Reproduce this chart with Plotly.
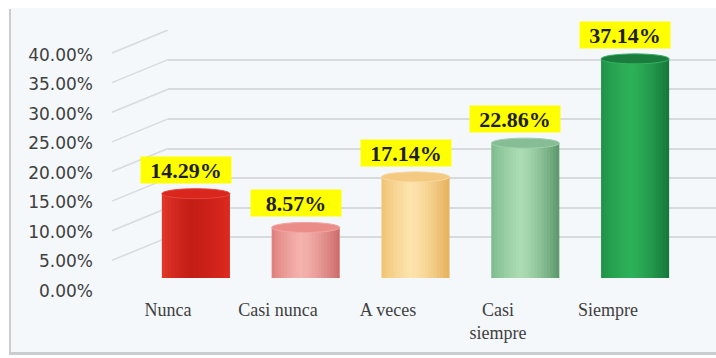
import plotly.graph_objects as go

# ---- data -------------------------------------------------------------
categories = ["Nunca", "Casi nunca", "A veces", "Casi siempre", "Siempre"]
percent = [14.29, 8.57, 17.14, 22.86, 37.14]
x_tick_labels = ["Nunca", "Casi nunca", "A veces", "Casi<br>siempre", "Siempre"]
y_ticks = [0, 5, 10, 15, 20, 25, 30, 35, 40]
y_tick_labels = [f"{v:.2f}%" for v in y_ticks]

# ---- styling ----------------------------------------------------------
W, H = 716, 358
shade_left = ["#e53a2c", "#dc7a78", "#efbf6e", "#78b888", "#1f9047"]
shade_mid = ["#c41d16", "#f5b3ae", "#fde3ad", "#acdcb4", "#2db158"]
shade_right = ["#dd2a20", "#cc6a68", "#e6b15a", "#5a976a", "#16773a"]
cap_fill = ["#d9271d", "#ea8c88", "#f4c982", "#86bd94", "#1a7d3d"]
cap_rim = ["#e8453a", "#f2a5a1", "#f8d9a0", "#9fcfab", "#36b062"]
grid_color = "#d7dbde"
BAR_W = 0.62
N_STRIPES = 22
HIGHLIGHT = 0.42


def px_x(p):
    return p / W


def px_y(p):
    return (H - p) / H


def hex_rgb(h):
    h = h.lstrip("#")
    return [int(h[i:i + 2], 16) for i in (0, 2, 4)]


def blend(a, b, t):
    ca, cb = hex_rgb(a), hex_rgb(b)
    c = [round(ca[i] + (cb[i] - ca[i]) * t) for i in range(3)]
    return "rgb({},{},{})".format(*c)


def stripe_color(i, u):
    if u < HIGHLIGHT:
        t = u / HIGHLIGHT
        return blend(shade_left[i], shade_mid[i], t ** 0.7)
    t = (u - HIGHLIGHT) / (1 - HIGHLIGHT)
    return blend(shade_mid[i], shade_right[i], t ** 1.4)


fig = go.Figure()

# empty traces register the back-wall and label subplots
fig.add_trace(go.Scatter(x=[], y=[], xaxis="x", yaxis="y", showlegend=False))

# cylinder bodies: vertical stripes with cylindrical shading
sw = BAR_W / N_STRIPES
for k in range(N_STRIPES):
    u = (k + 0.5) / N_STRIPES
    fig.add_trace(go.Bar(
        x=categories, y=percent,
        xaxis="x2", yaxis="y2",
        offset=-BAR_W / 2 + k * sw,
        width=sw * (1.4 if k < N_STRIPES - 1 else 1.0),
        marker=dict(color=[stripe_color(i, u) for i in range(len(categories))],
                    line=dict(width=0)),
        hoverinfo="skip", showlegend=False,
    ))

fig.add_trace(go.Scatter(x=[], y=[], xaxis="x3", yaxis="y3", showlegend=False))

shapes = []
# panel with soft shadow
shapes.append(dict(type="rect", xref="paper", yref="paper", layer="below",
                   x0=px_x(9), x1=px_x(722), y0=px_y(355), y1=px_y(9),
                   fillcolor="#c9cdd0", line=dict(width=0)))
shapes.append(dict(type="rect", xref="paper", yref="paper", layer="below",
                   x0=px_x(11), x1=px_x(722), y0=px_y(352), y1=px_y(8),
                   fillcolor="#f4f8fb", line=dict(width=0)))

# side-wall grid lines joining the front axis to the back wall
for v in y_ticks:
    shapes.append(dict(type="line", xref="paper", yref="y", layer="below",
                       ysizemode="pixel", yanchor=v, y0=-23, y1=0,
                       x0=px_x(112), x1=px_x(168),
                       line=dict(color=grid_color, width=1.6)))

# cylinder bases and tops
for i, v in enumerate(percent):
    shapes.append(dict(type="circle", xref="x2", yref="y2", layer="below",
                       ysizemode="pixel", yanchor=0, y0=-5, y1=5,
                       x0=i - BAR_W / 2, x1=i + BAR_W / 2,
                       fillcolor=stripe_color(i, 0.5), line=dict(width=0)))
    shapes.append(dict(type="circle", xref="x2", yref="y2", layer="above",
                       ysizemode="pixel", yanchor=v, y0=-5, y1=5,
                       x0=i - BAR_W / 2, x1=i + BAR_W / 2,
                       fillcolor=cap_fill[i], line=dict(width=1, color=cap_rim[i])))

annotations = []
for c, v in zip(categories, percent):
    annotations.append(dict(
        x=c, y=v, xref="x2", yref="y2",
        text=f"{v:.2f}%", showarrow=False,
        yanchor="bottom", yshift=10, xshift=-10,
        width=90, height=26, borderpad=0,
        bgcolor="#ffff00",
        font=dict(family="Liberation Serif", size=22, color="#1f1f1f", weight="bold"),
    ))

fig.update_layout(
    template="none",
    width=W, height=H,
    autosize=False,
    margin=dict(l=0, r=0, t=0, b=0, pad=0, autoexpand=False),
    paper_bgcolor="#ffffff",
    plot_bgcolor="rgba(0,0,0,0)",
    barmode="overlay",
    showlegend=False,
    shapes=shapes,
    annotations=annotations,
    # back wall with its gridlines
    xaxis=dict(domain=[px_x(168), 1], range=[0, 1], anchor="y", automargin=False,
               showgrid=False, zeroline=False, showticklabels=False, showline=False,
               ticks=""),
    yaxis=dict(domain=[px_y(267), px_y(30)], range=[0, 40], anchor="x", automargin=False,
               tickvals=y_ticks, showgrid=True, gridcolor=grid_color, gridwidth=1.6,
               zeroline=False, showticklabels=False, showline=False, ticks=""),
    # cylinders
    xaxis2=dict(domain=[px_x(141), px_x(690)], type="category",
                categoryorder="array", categoryarray=categories,
                range=[-0.5, 4.5], anchor="y2", visible=False, automargin=False),
    yaxis2=dict(domain=[px_y(278), px_y(42)], range=[0, 40], anchor="x2",
                visible=False, automargin=False),
    # front category and value labels
    xaxis3=dict(domain=[px_x(113), px_x(663)], range=[-0.5, 4.5],
                anchor="free", position=px_y(297), automargin=False,
                tickvals=list(range(len(x_tick_labels))), ticktext=x_tick_labels,
                showgrid=False, zeroline=False, showline=False, ticks="",
                tickfont=dict(family="Liberation Serif", size=18, color="#404040")),
    yaxis3=dict(domain=[px_y(291), px_y(55)], range=[0, 40],
                anchor="free", position=px_x(93), automargin=False,
                tickvals=y_ticks, ticktext=y_tick_labels,
                showgrid=False, zeroline=False, showline=False, ticks="",
                tickfont=dict(family="DejaVu Sans", size=17, color="#404040")),
)

fig.write_html("out.html")
